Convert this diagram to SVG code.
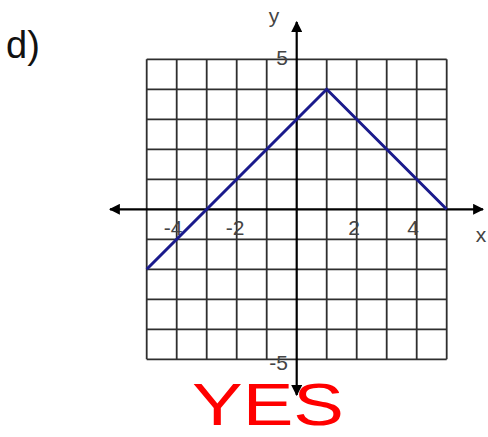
<svg xmlns="http://www.w3.org/2000/svg" width="488" height="437" viewBox="0 0 488 437">
<style>
.grid{stroke:#2e2e2e;stroke-width:1.8;fill:none}
.axis{stroke:#000;stroke-width:2.2;fill:none}
.lbl{font-family:"Liberation Sans",Arial,sans-serif;font-size:21px;fill:#444}
</style>
<defs>
<marker id="ah" viewBox="0 0 10 10" refX="9" refY="5" markerWidth="11" markerHeight="11" markerUnits="userSpaceOnUse" orient="auto">
<path d="M0,0 L10,5 L0,10 Z" fill="#000"/>
</marker>
</defs>
<rect width="488" height="437" fill="#fff"/>
<text x="6" y="58" font-family="'Liberation Sans',Arial,sans-serif" font-size="38" fill="#111">d)</text>
<g id="grid" class="grid">
<path d="M146.7,59.3V359.3M176.7,59.3V359.3M206.7,59.3V359.3M236.7,59.3V359.3M266.7,59.3V359.3M326.7,59.3V359.3M356.7,59.3V359.3M386.7,59.3V359.3M416.7,59.3V359.3M446.7,59.3V359.3"/>
<path d="M146.7,59.3H446.7M146.7,89.3H446.7M146.7,119.3H446.7M146.7,149.3H446.7M146.7,179.3H446.7M146.7,239.3H446.7M146.7,269.3H446.7M146.7,299.3H446.7M146.7,329.3H446.7M146.7,359.3H446.7"/>
</g>
<g id="axes">
<line class="axis" x1="296.7" y1="209.3" x2="110" y2="209.3" marker-end="url(#ah)"/>
<line class="axis" x1="296.7" y1="209.3" x2="483" y2="209.3" marker-end="url(#ah)"/>
<line class="axis" x1="296.7" y1="209.3" x2="296.7" y2="22" marker-end="url(#ah)"/>
<line class="axis" x1="296.7" y1="209.3" x2="296.7" y2="395" marker-end="url(#ah)"/>
</g>
<g id="labels" class="lbl">
<text x="274" y="23" text-anchor="middle">y</text>
<text x="481" y="242" text-anchor="middle">x</text>
<text x="288" y="65" text-anchor="end">5</text>
<text x="288" y="370" text-anchor="end">-5</text>
<text x="173" y="235" text-anchor="middle">-4</text>
<text x="235" y="235" text-anchor="middle">-2</text>
<text x="354" y="235" text-anchor="middle">2</text>
<text x="413" y="235" text-anchor="middle">4</text>
</g>
<g id="graph">
<polyline points="146.7,269.3 326.7,89.3 446.7,209.3" fill="none" stroke="#1a1a8c" stroke-width="3" stroke-linejoin="miter"/>
</g>
<text x="192" y="425" font-family="'Liberation Sans',Arial,sans-serif" font-size="60" fill="#f00" textLength="152" lengthAdjust="spacingAndGlyphs">YES</text>
</svg>
